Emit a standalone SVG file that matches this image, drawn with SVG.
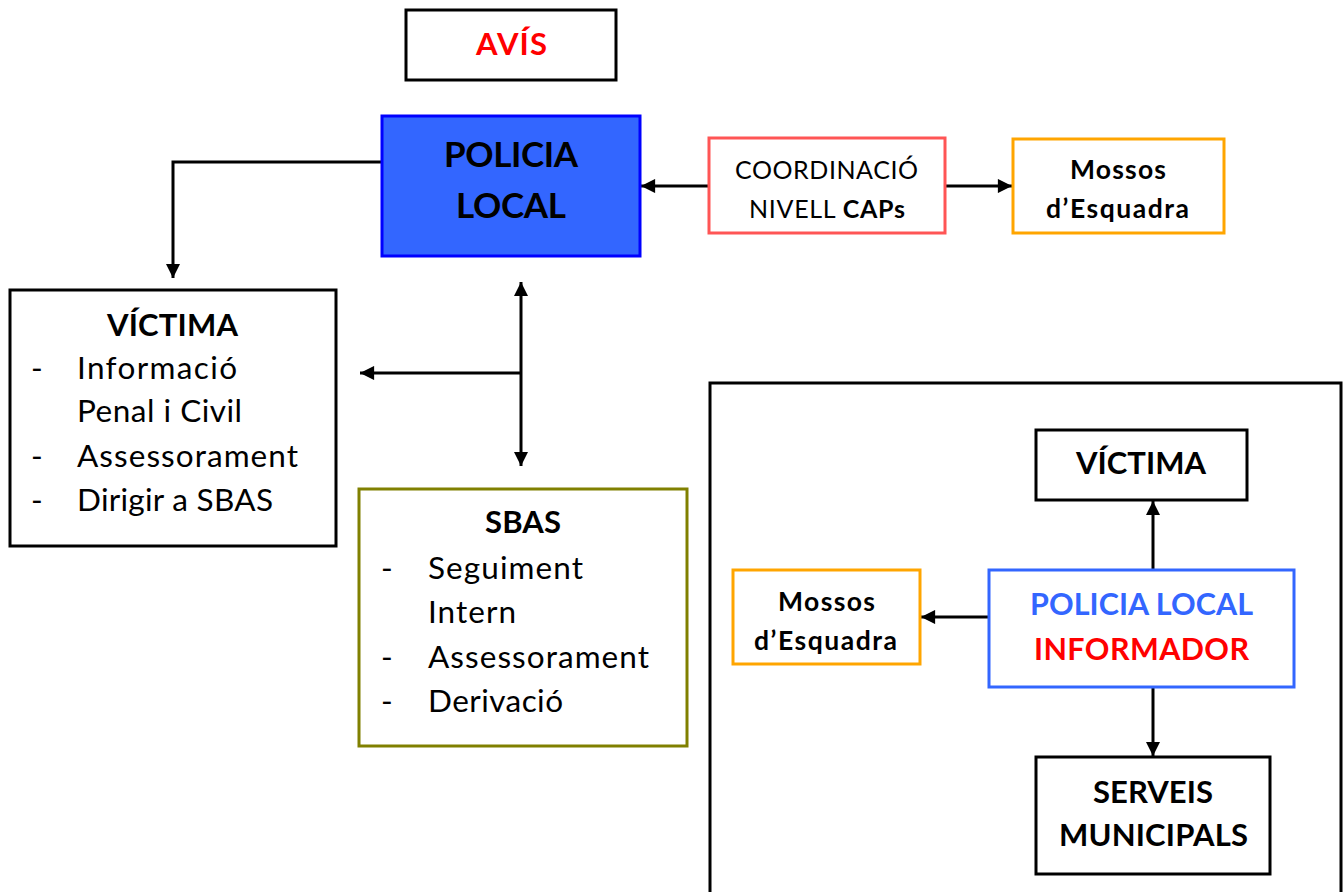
<svg xmlns="http://www.w3.org/2000/svg" width="1343" height="892" viewBox="0 0 1343 892">
<style>
text{font-family:Lato,"Liberation Sans",sans-serif;fill:#000}
.b{font-weight:bold}
.box{fill:#fff;stroke-width:3}
.ln{stroke:#000;stroke-width:3;fill:none}
</style>
<defs>
<marker id="ah" viewBox="0 0 10 10" refX="10" refY="5" markerWidth="5" markerHeight="4.7" orient="auto-start-reverse" markerUnits="strokeWidth">
<path d="M0,0L10,5L0,10z" fill="#000"/>
</marker>
</defs>
<rect width="1343" height="892" fill="#fff"/>
<g id="connectors">
<path class="ln" d="M382,162H173V278" marker-end="url(#ah)"/>
<path class="ln" d="M709,186H641" marker-end="url(#ah)"/>
<path class="ln" d="M945,186H1012" marker-end="url(#ah)"/>
<path class="ln" d="M521,282V466" marker-start="url(#ah)" marker-end="url(#ah)"/>
<path class="ln" d="M521,373H360" marker-end="url(#ah)"/>
<path class="ln" d="M989,617H921" marker-end="url(#ah)"/>
<path class="ln" d="M1153,570V501" marker-end="url(#ah)"/>
<path class="ln" d="M1153,687V756" marker-end="url(#ah)"/>
</g>
<g id="avis">
<rect class="box" x="406" y="10" width="210" height="70" stroke="#000"/>
<text class="b" x="476" y="55" font-size="31" textLength="71" lengthAdjust="spacing" style="fill:#ff0000">AVÍS</text>
</g>
<g id="policia-local">
<rect x="382" y="116" width="258" height="140" fill="#3366ff" stroke="#0000ff" stroke-width="3"/>
<text class="b" x="444" y="167" font-size="35" textLength="134" lengthAdjust="spacing">POLICIA</text>
<text class="b" x="456" y="218" font-size="35" textLength="110" lengthAdjust="spacing">LOCAL</text>
</g>
<g id="coordinacio">
<rect class="box" x="709" y="138" width="236" height="95" stroke="#ff5555"/>
<text x="735" y="179" font-size="25" textLength="183" lengthAdjust="spacing">COORDINACIÓ</text>
<text x="749" y="218" font-size="25" textLength="156" lengthAdjust="spacing">NIVELL <tspan class="b">CAPs</tspan></text>
</g>
<g id="mossos-1">
<rect class="box" x="1013" y="139" width="211" height="94" stroke="#ffa500"/>
<text class="b" x="1070" y="179" font-size="26.5" textLength="96" lengthAdjust="spacing">Mossos</text>
<text class="b" x="1046" y="218" font-size="26.5" textLength="143" lengthAdjust="spacing">d’Esquadra</text>
</g>
<g id="victima-1">
<rect class="box" x="10" y="290" width="326" height="256" stroke="#000"/>
<text class="b" x="107" y="336" font-size="31" textLength="131" lengthAdjust="spacing">VÍCTIMA</text>
<g font-size="31.5">
<text x="31" y="379">-</text><text x="77" y="379" textLength="160" lengthAdjust="spacing">Informació</text>
<text x="77" y="422" textLength="165" lengthAdjust="spacing">Penal i Civil</text>
<text x="31" y="467">-</text><text x="77" y="467" textLength="221" lengthAdjust="spacing">Assessorament</text>
<text x="31" y="511">-</text><text x="77" y="511" textLength="196" lengthAdjust="spacing">Dirigir a SBAS</text>
</g>
</g>
<g id="sbas">
<rect class="box" x="359" y="489" width="328" height="257" stroke="#808000"/>
<text class="b" x="485" y="533" font-size="31" textLength="76" lengthAdjust="spacing">SBAS</text>
<g font-size="31.5">
<text x="381" y="579">-</text><text x="428" y="579" textLength="155" lengthAdjust="spacing">Seguiment</text>
<text x="428" y="623" textLength="88" lengthAdjust="spacing">Intern</text>
<text x="381" y="668">-</text><text x="428" y="668" textLength="221" lengthAdjust="spacing">Assessorament</text>
<text x="381" y="712">-</text><text x="428" y="712" textLength="135" lengthAdjust="spacing">Derivació</text>
</g>
</g>
<g id="frame">
<rect x="710" y="383" width="631" height="520" fill="none" stroke="#000" stroke-width="3"/>
</g>
<g id="victima-2">
<rect class="box" x="1036" y="430" width="211" height="70" stroke="#000"/>
<text class="b" x="1076" y="474" font-size="31" textLength="130" lengthAdjust="spacing">VÍCTIMA</text>
</g>
<g id="policia-informador">
<rect class="box" x="989" y="570" width="305" height="117" stroke="#3366ff"/>
<text class="b" x="1030" y="615" font-size="30.5" textLength="223" lengthAdjust="spacing" style="fill:#3366ff">POLICIA LOCAL</text>
<text class="b" x="1034" y="660" font-size="30.5" textLength="215" lengthAdjust="spacing" style="fill:#ff0000">INFORMADOR</text>
</g>
<g id="mossos-2">
<rect class="box" x="733" y="570" width="187" height="94" stroke="#ffa500"/>
<text class="b" x="778" y="611" font-size="26.5" textLength="97" lengthAdjust="spacing">Mossos</text>
<text class="b" x="754" y="650" font-size="26.5" textLength="143" lengthAdjust="spacing">d’Esquadra</text>
</g>
<g id="serveis">
<rect class="box" x="1036" y="757" width="234" height="117" stroke="#000"/>
<text class="b" x="1093" y="803" font-size="31" textLength="120" lengthAdjust="spacing">SERVEIS</text>
<text class="b" x="1059" y="846" font-size="31" textLength="189" lengthAdjust="spacing">MUNICIPALS</text>
</g>
</svg>
